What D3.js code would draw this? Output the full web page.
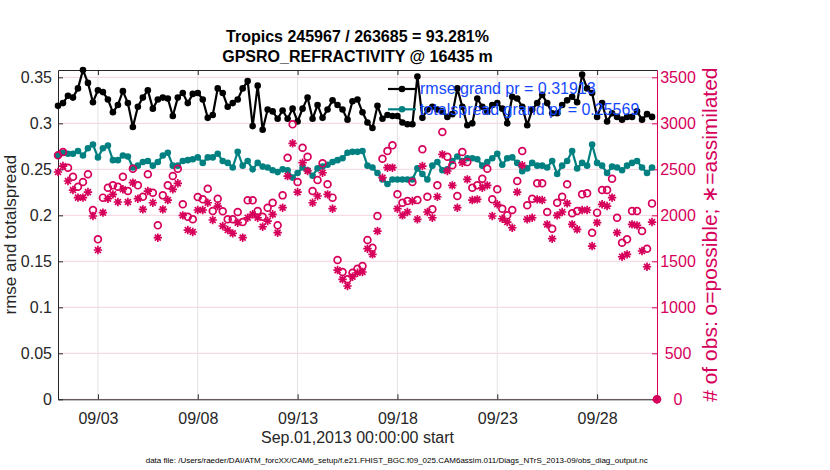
<!DOCTYPE html>
<html>
<head>
<meta charset="utf-8">
<script src="https://cdn.jsdelivr.net/npm/d3@7/dist/d3.min.js"></script>
<style>
  body { margin: 0; background: #fff; }
  svg { display: block; }
  text { font-family: "Liberation Sans", Arial, Helvetica, sans-serif; }
</style>
</head>
<body>
<svg id="chart" width="830" height="470"></svg>
<script>
// ---- data (6-hourly bins from Sep.01 00Z) ----
const titleLines = ["Tropics 245967 / 263685 = 93.281%", "GPSRO_REFRACTIVITY @ 16435 m"];
const legendLabels = ["rmse grand pr = 0.31913", "totalspread grand pr = 0.25569"];
const xLabel = "Sep.01,2013 00:00:00 start";
const yLabelLeft = "rmse and totalspread";
const yLabelRight = "# of obs: o=possible; \u2217=assimilated";
const footer = "data file: /Users/raeder/DAI/ATM_forcXX/CAM6_setup/f.e21.FHIST_BGC.f09_025.CAM6assim.011/Diags_NTrS_2013-09/obs_diag_output.nc";

const binStart = new Date(2013, 8, 1, 0, 0, 0);
const binHours = 6;

const rmse = [
  0.319, 0.322, 0.330, 0.328, 0.338, 0.358, 0.344, 0.323, 0.336, 0.334,
  0.326, 0.312, 0.320, 0.335, 0.322, 0.296, 0.318, 0.328, 0.336, 0.316,
  0.326, 0.328, 0.327, 0.308, 0.328, 0.333, 0.322, 0.332, 0.333, 0.326,
  0.306, 0.309, 0.338, 0.333, 0.318, 0.322, 0.326, 0.338, 0.346, 0.297,
  0.341, 0.293, 0.315, 0.313, 0.305, 0.314, 0.305, 0.316, 0.302, 0.316,
  0.328, 0.305, 0.320, 0.306, 0.315, 0.325, 0.320, 0.315, 0.304, 0.324,
  0.326, 0.312, 0.301, 0.295, 0.319, 0.305, 0.309, 0.308, 0.308, 0.301,
  0.299, 0.299, 0.351, 0.306, 0.315, 0.318, 0.315, 0.313, 0.307, 0.310,
  0.338, 0.318, 0.298, 0.300, 0.327, 0.318, 0.313, 0.320, 0.322, 0.316,
  0.300, 0.329, 0.327, 0.318, 0.298, 0.315, 0.322, 0.331, 0.322, 0.311,
  0.311, 0.320, 0.325, 0.329, 0.323, 0.353, 0.338, 0.333, 0.307, 0.322,
  0.302, 0.311, 0.307, 0.304, 0.307, 0.307, 0.313, 0.304, 0.310, 0.307
];

const totalspread = [
  0.265, 0.268, 0.267, 0.267, 0.270, 0.265, 0.273, 0.277, 0.263, 0.273,
  0.276, 0.260, 0.260, 0.265, 0.264, 0.252, 0.254, 0.258, 0.259, 0.254,
  0.258, 0.265, 0.268, 0.254, 0.254, 0.259, 0.260, 0.261, 0.263, 0.257,
  0.263, 0.263, 0.267, 0.259, 0.257, 0.252, 0.269, 0.254, 0.259, 0.250,
  0.257, 0.253, 0.252, 0.249, 0.247, 0.250, 0.249, 0.241, 0.246, 0.252,
  0.249, 0.243, 0.251, 0.253, 0.255, 0.258, 0.260, 0.262, 0.268, 0.269,
  0.269, 0.270, 0.254, 0.252, 0.246, 0.239, 0.234, 0.239, 0.239, 0.239,
  0.239, 0.239, 0.251, 0.245, 0.239, 0.254, 0.258, 0.249, 0.250, 0.259,
  0.264, 0.259, 0.262, 0.262, 0.261, 0.254, 0.258, 0.262, 0.267, 0.255,
  0.262, 0.263, 0.257, 0.248, 0.251, 0.257, 0.254, 0.254, 0.252, 0.259,
  0.245, 0.254, 0.259, 0.270, 0.251, 0.257, 0.254, 0.277, 0.257, 0.254,
  0.246, 0.253, 0.252, 0.249, 0.254, 0.257, 0.259, 0.252, 0.246, 0.252
];

const obsPossible = [
  2652, 2688, 2518, 2420, 2311, 2362, 2446, 2058, 1739, 2192,
  2300, 2326, 2311, 2420, 2264, 2507, 2326, 2202, 2446, 2246,
  1891, 2217, 2326, 2427, 2507, 2120, 1985, 1957, 2199, 2174,
  2289, 2047, 2181, 2044, 1957, 1957, 2036, 1927, 2163, 2163,
  2047, 1985, 2083, 2137, 1891, 2217, 2626, 2989, 2362, 2735,
  2637, 2264, 2384, 2565, 2337, 2192, 1514, 1384, 1304, 1376,
  1420, 1449, 1732, 1648, 1993, 2615, 2699, 2761, 2228, 2137,
  2156, 2362, 2166, 2718, 2202, 2065, 2326, 2906, 2637, 2544,
  2210, 2688, 2579, 2300, 2326, 2398, 2507, 2174, 2283, 2072,
  2000, 2058, 2373, 2699, 2109, 2181, 2348, 2348, 2036, 1854,
  2137, 2202, 2337, 2022, 2047, 2228, 2239, 1811, 2029, 2275,
  2275, 2398, 1974, 1702, 1739, 2047, 2047, 1829, 1637, 2130,
  0
];

const obsAssimilated = [
  2471, 2536, 2373, 2275, 2192, 2192, 2253, 1993, 1623, 2029,
  2181, 2228, 2145, 2283, 2145, 2355, 2181, 2065, 2264, 2137,
  1757, 2065, 2166, 2283, 2348, 2000, 1840, 1819, 2058, 2058,
  2137, 1949, 2101, 1884, 1840, 1804, 1920, 1757, 1974, 2011,
  1974, 1876, 1938, 2011, 1811, 2083, 2427, 2783, 2253, 2572,
  2482, 2137, 2210, 2463, 2228, 2072, 1405, 1304, 1232, 1333,
  1376, 1384, 1637, 1576, 1829, 2409, 2518, 2518, 2072, 2000,
  2036, 2156, 1957, 2536, 2036, 1974, 2202, 2663, 2482, 2326,
  2083, 2572, 2391, 2166, 2174, 2300, 2326, 1993, 2120, 1963,
  1927, 1865, 2253, 2544, 1957, 1974, 2174, 2166, 1902, 1746,
  2000, 2036, 2130, 1902, 1848, 2058, 2058, 1666, 1920, 2120,
  2101, 2192, 1811, 1550, 1576, 1902, 1891, 1612, 1441, 1927,
  0
];

const xTickDates = ["2013-09-03", "2013-09-08", "2013-09-13", "2013-09-18", "2013-09-23", "2013-09-28"];
const xTickLabels = ["09/03", "09/08", "09/13", "09/18", "09/23", "09/28"];
const leftTicks = [0, 0.05, 0.1, 0.15, 0.2, 0.25, 0.3, 0.35];
const leftTickLabels = ["0", "0.05", "0.1", "0.15", "0.2", "0.25", "0.3", "0.35"];
const rightTicks = [0, 500, 1000, 1500, 2000, 2500, 3000, 3500];
const leftMax = 0.358;
const rightMax = 3580;
const xEnd = new Date(2013, 9, 1, 0, 0, 0);

// ---- layout / style ----
const M = { left: 58, right: 657, top: 70, bottom: 399.3 };
const C = {
  axis: "#262626",
  obs: "#d6005b",
  teal: "#008080",
  blue: "#1448ff",
  vgrid: "#e2e2e2",
  hgrid: "#f4d3df"
};
const FONT = '"Liberation Sans", Arial, sans-serif';

const svg = d3.select("#chart");

const parseDay = d3.timeParse("%Y-%m-%d");
const tickDates = xTickDates.map(parseDay);
const binTime = i => new Date(binStart.getTime() + i * binHours * 3600e3);

const x = d3.scaleTime().domain([binStart, xEnd]).range([M.left, M.right]);
const yL = d3.scaleLinear().domain([0, leftMax]).range([M.bottom, M.top]);
const yR = d3.scaleLinear().domain([0, rightMax]).range([M.bottom, M.top]);

// =========================
// grid
// =========================
const grid = svg.append("g");
grid.selectAll(".hg").data(rightTicks).join("line")
  .attr("x1", M.left).attr("x2", M.right)
  .attr("y1", d => yR(d)).attr("y2", d => yR(d))
  .attr("stroke", C.hgrid).attr("stroke-width", 1);
grid.selectAll(".vg").data(tickDates).join("line")
  .attr("x1", d => x(d)).attr("x2", d => x(d))
  .attr("y1", M.top).attr("y2", M.bottom)
  .attr("stroke", C.vgrid).attr("stroke-width", 1);

// =========================
// axes
// =========================
const styleAxis = (g, color) => {
  g.selectAll("path.domain").attr("stroke", color).attr("stroke-width", 1);
  g.selectAll(".tick line").attr("stroke", color);
  g.selectAll(".tick text").attr("fill", color)
    .style("font-size", "16px").style("font-family", FONT);
};

const labelOf = (ticks, labels) => d => labels[ticks.findIndex(t => +t === +d)];

svg.append("g")
  .attr("transform", `translate(0,${M.bottom})`)
  .call(d3.axisBottom(x).tickValues(tickDates)
    .tickFormat(labelOf(tickDates, xTickLabels))
    .tickSizeInner(-5).tickSizeOuter(0).tickPadding(13))
  .call(g => styleAxis(g, C.axis));

svg.append("g")
  .attr("transform", `translate(0,${M.top})`)
  .call(d3.axisTop(x).tickValues(tickDates).tickFormat("")
    .tickSizeInner(-5).tickSizeOuter(0))
  .call(g => styleAxis(g, C.axis));

svg.append("g")
  .attr("transform", `translate(${M.left},0)`)
  .call(d3.axisLeft(yL).tickValues(leftTicks)
    .tickFormat(labelOf(leftTicks, leftTickLabels))
    .tickSizeInner(-5).tickSizeOuter(0).tickPadding(6))
  .call(g => styleAxis(g, C.axis));

// right axis labels sit centred in their column
svg.append("g")
  .attr("transform", `translate(${M.right},0)`)
  .call(d3.axisRight(yR).tickValues(rightTicks).tickFormat(d3.format("d"))
    .tickSizeInner(-5).tickSizeOuter(0).tickPadding(21))
  .call(g => styleAxis(g, C.obs))
  .call(g => g.selectAll(".tick text").attr("text-anchor", "middle"));

// =========================
// rmse / spread lines
// =========================
const plotLine = (vals, color) => {
  const pts = vals.map((v, i) => ({ t: binTime(i), v }));
  svg.append("path")
    .datum(pts)
    .attr("fill", "none")
    .attr("stroke", color)
    .attr("stroke-width", 2.2)
    .attr("stroke-linejoin", "round")
    .attr("d", d3.line().x(d => x(d.t)).y(d => yL(d.v)));
  svg.append("g").selectAll("circle").data(pts).join("circle")
    .attr("cx", d => x(d.t)).attr("cy", d => yL(d.v))
    .attr("r", 3.3).attr("fill", color);
};

plotLine(totalspread, C.teal);
plotLine(rmse, "#000");

// =========================
// obs counts (right axis)
// =========================
const star = s => {
  const a = s * 0.707;
  return `M${-s},0L${s},0M0,${-s}L0,${s}M${-a},${-a}L${a},${a}M${-a},${a}L${a},${-a}`;
};

svg.append("g").selectAll("path").data(obsAssimilated).join("path")
  .attr("transform", (d, i) => `translate(${x(binTime(i))},${yR(d)})`)
  .attr("d", star(4.2))
  .attr("stroke", C.obs).attr("stroke-width", 1.7).attr("fill", "none");

svg.append("g").selectAll("circle").data(obsPossible).join("circle")
  .attr("cx", (d, i) => x(binTime(i))).attr("cy", d => yR(d))
  .attr("r", 3.4).attr("fill", "none")
  .attr("stroke", C.obs).attr("stroke-width", 1.7);

// =========================
// legend (no box)
// =========================
const legend = svg.append("g");
[["#000", 89], [C.teal, 109.3]].forEach(([col, ly], k) => {
  legend.append("line")
    .attr("x1", 388).attr("x2", 416).attr("y1", ly).attr("y2", ly)
    .attr("stroke", col).attr("stroke-width", 2.2);
  legend.append("circle").attr("cx", 402).attr("cy", ly).attr("r", 3.3).attr("fill", col);
  legend.append("text")
    .attr("x", 420).attr("y", ly + 5.4)
    .attr("fill", C.blue).style("font-size", "16px")
    .text(legendLabels[k]);
});

// =========================
// titles and labels
// =========================
const midX = (M.left + M.right) / 2;
titleLines.forEach((t, k) => {
  svg.append("text")
    .attr("x", midX).attr("y", 41.7 + k * 20.6)
    .attr("text-anchor", "middle")
    .style("font-size", "16px").style("font-weight", "bold")
    .attr("fill", "#000")
    .text(t);
});

svg.append("text")
  .attr("x", midX).attr("y", 443.3)
  .attr("text-anchor", "middle")
  .style("font-size", "16px").attr("fill", C.axis)
  .text(xLabel);

const midY = (M.top + M.bottom) / 2;
svg.append("text")
  .attr("transform", `translate(16,${midY}) rotate(-90)`)
  .attr("text-anchor", "middle")
  .style("font-size", "17px").attr("fill", C.axis)
  .text(yLabelLeft);

svg.append("text")
  .attr("transform", `translate(717,${midY}) rotate(-90)`)
  .attr("text-anchor", "middle")
  .style("font-size", "21px").attr("fill", C.obs)
  .text(yLabelRight);

svg.append("text")
  .attr("x", 145.7).attr("y", 463)
  .attr("textLength", 502).attr("lengthAdjust", "spacingAndGlyphs")
  .style("font-size", "7.8px").attr("fill", "#000")
  .text(footer);
</script>
</body>
</html>
